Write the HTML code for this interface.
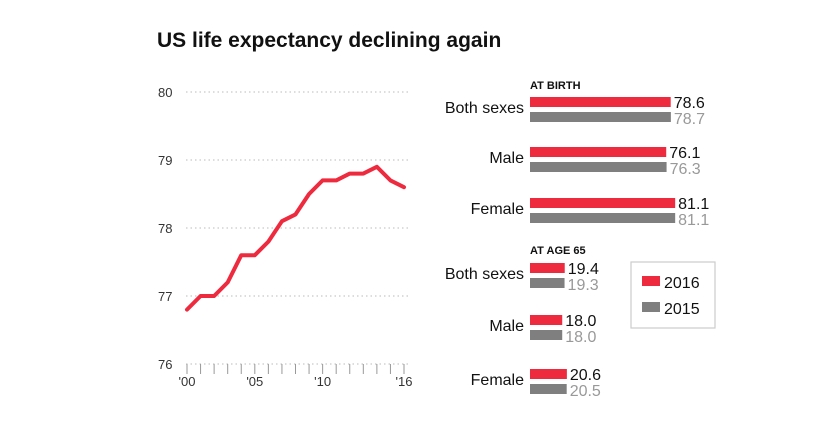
<!DOCTYPE html>
<html><head><meta charset="utf-8"><style>
body{margin:0;background:#fff;font-family:"Liberation Sans",sans-serif}
</style></head><body>
<svg width="831" height="435" viewBox="0 0 831 435" xmlns="http://www.w3.org/2000/svg" font-family="Liberation Sans, sans-serif">
<text x="157" y="47" font-size="21" font-weight="bold" fill="#111">US life expectancy declining again</text>
<g id="line"></g>
<g id="bars"></g>
<g>
<rect x="631" y="262" width="84" height="66" fill="#fff" stroke="#ccc" stroke-width="1.2"/>
<rect x="642" y="276" width="18" height="10" fill="#ee2a3e"/>
<text x="664" y="288" font-size="16" fill="#111">2016</text>
<rect x="642" y="302" width="18" height="10" fill="#7f7f7f"/>
<text x="664" y="314" font-size="16" fill="#111">2015</text>
</g>
</svg>
<script>
const years=[2000,2001,2002,2003,2004,2005,2006,2007,2008,2009,2010,2011,2012,2013,2014,2015,2016];
const lifeExp=[76.8,77.0,77.0,77.2,77.6,77.6,77.8,78.1,78.2,78.5,78.7,78.7,78.8,78.8,78.9,78.7,78.6];
const yTicks=[76,77,78,79,80];
const xTickLabels=["'00","'05","'10","'16"];
const xTickYears=[2000,2005,2010,2016];
const barCategories=["Both sexes","Male","Female","Both sexes","Male","Female"];
const values2016=[78.6,76.1,81.1,19.4,18.0,20.6];
const values2015=[78.7,76.3,81.1,19.3,18.0,20.5];
const ns="http://www.w3.org/2000/svg";
function mk(p,t,a,txt){const e=document.createElementNS(ns,t);for(const k in a)e.setAttribute(k,a[k]);if(txt!=null)e.textContent=txt;p.appendChild(e);return e;}
const X=y=>187+(y-2000)*(404-187)/16;
const Y=v=>364-(v-76)*68;
const L=document.getElementById('line');
yTicks.forEach(t=>{
 const g=mk(L,'line',{x1:186,x2:408,y1:Y(t),y2:Y(t),stroke:'#bbb','stroke-dasharray':'1.5,3'});
 
 
 const tx=mk(L,'text',{x:158,y:Y(t)+5,'font-size':13,fill:'#333'},t);
 
 
});
years.forEach(y=>{
 const tk=mk(L,'line',{x1:X(y),x2:X(y),y1:364,y2:374,stroke:'#999','stroke-width':1});
 
 
});
xTickLabels.forEach((l,i)=>{
 const tx=mk(L,'text',{x:X(xTickYears[i]),y:386,'font-size':13,fill:'#333','text-anchor':'middle'},l);
 
 
});
const pl=mk(L,'polyline',{points:years.map((y,i)=>X(y)+','+Y(lifeExp[i])).join(' '),fill:'none',stroke:'#ee2a3e','stroke-width':4,'stroke-linejoin':'round','stroke-linecap':'round'});


const B=document.getElementById('bars');
const bx=530,scale=1.79;
const rowY=[97,147,198,263,315,369];
const h1=mk(B,'text',{x:530,y:89,'font-size':11,'font-weight':'bold',fill:'#111'},'AT BIRTH');


const h2=mk(B,'text',{x:530,y:254,'font-size':11,'font-weight':'bold',fill:'#111'},'AT AGE 65');


barCategories.forEach((c,i)=>{
 const y=rowY[i];
 const lb=mk(B,'text',{x:524,y:y+16,'font-size':16,fill:'#111','text-anchor':'end'},c);
 
 
 const w1=values2016[i]*scale,w2=values2015[i]*scale;
 const r1=mk(B,'rect',{x:bx,y:y,width:w1,height:10,fill:'#ee2a3e'});
 
 
 const r2=mk(B,'rect',{x:bx,y:y+15,width:w2,height:10,fill:'#7f7f7f'});
 
 
 const t1=mk(B,'text',{x:bx+w1+3,y:y+11,'font-size':16,fill:'#111'},values2016[i].toFixed(1));
 
 
 const t2=mk(B,'text',{x:bx+w2+3,y:y+27,'font-size':16,fill:'#999'},values2015[i].toFixed(1));
 
 
});
</script>
</body></html>
